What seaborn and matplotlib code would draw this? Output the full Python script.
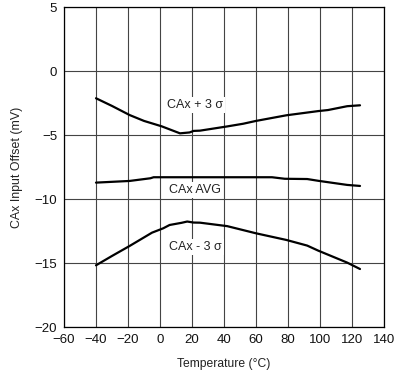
import numpy as np
import pandas as pd
import matplotlib
matplotlib.use("Agg")
import matplotlib.pyplot as plt
import seaborn as sns

# values
temp_hi = [-40, -30, -19, -10, 1, 12.5, 18.5, 21, 25, 42, 52, 60, 79, 99, 105, 117, 125]
offset_hi = [-2.13, -2.73, -3.44, -3.90, -4.32, -4.87, -4.80, -4.68, -4.66, -4.33, -4.12,
             -3.90, -3.46, -3.13, -3.05, -2.75, -2.68]

temp_avg = [-40, -19, -6, -4, 70, 78, 92, 99, 117, 125]
offset_avg = [-8.72, -8.59, -8.38, -8.30, -8.30, -8.42, -8.44, -8.58, -8.90, -8.98]

temp_lo = [-40, -30, -19, -5, 2, 6, 13.5, 17, 21, 25, 42, 60, 79, 92, 99, 117, 125]
offset_lo = [-15.18, -14.45, -13.67, -12.63, -12.29, -12.03, -11.86, -11.76, -11.84, -11.85,
             -12.12, -12.68, -13.20, -13.64, -14.04, -14.97, -15.47]

series_names = ["CAx + 3 σ", "CAx AVG", "CAx - 3 σ"]
label_pos = [(22, -2.66), (22, -9.3), (22, -13.75)]

x_ticks = list(range(-60, 141, 20))
y_ticks = list(range(-20, 6, 5))

df = pd.concat([
    pd.DataFrame({"temp": temp_hi, "offset": offset_hi, "series": series_names[0]}),
    pd.DataFrame({"temp": temp_avg, "offset": offset_avg, "series": series_names[1]}),
    pd.DataFrame({"temp": temp_lo, "offset": offset_lo, "series": series_names[2]}),
])

sns.set_style("white")
plt.rcParams['font.family'] = ['Liberation Sans', 'DejaVu Sans']

fig = plt.figure(figsize=(4.06, 3.75), dpi=100)
ax = fig.add_axes([64 / 406, 1 - 327 / 375, 320 / 406, 320 / 375])

sns.lineplot(data=df, x="temp", y="offset", units="series", estimator=None,
             color="black", linewidth=1.6, ax=ax, legend=False, sort=False)

for name, (lx, ly) in zip(series_names, label_pos):
    ax.text(lx, ly, name, ha="center", va="center", fontsize=9, color="#222222",
            bbox=dict(facecolor="white", edgecolor="none", pad=1.5))

ax.set_xlim(-60, 140)
ax.set_ylim(-20, 5)
ax.set_xticks(x_ticks)
ax.set_yticks(y_ticks)
ax.set_xticklabels([str(t).replace("-", "\u2212") for t in x_ticks])
ax.set_yticklabels([str(t).replace("-", "\u2212") for t in y_ticks])
ax.tick_params(length=0, labelsize=9.5, pad=5, colors="#111111")
ax.grid(True, color="#444444", linewidth=0.8)
ax.set_axisbelow(True)
for s in ax.spines.values():
    s.set_color("black")
    s.set_linewidth(0.9)

ax.set_xlabel("Temperature (°C)", fontsize=8.7, labelpad=9, color="#222222")
ax.set_ylabel("CAx Input Offset (mV)", fontsize=8.9, labelpad=8, color="#222222")

plt.savefig("out.png", dpi=100)
